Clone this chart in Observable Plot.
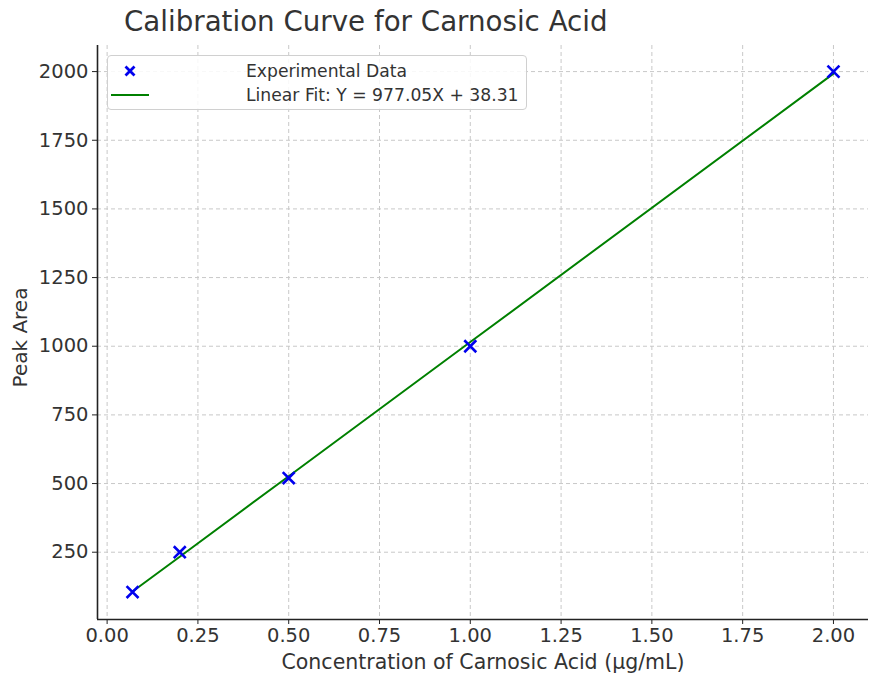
<!DOCTYPE html>
<html>
<head>
<meta charset="utf-8">
<script src="https://cdn.jsdelivr.net/npm/d3@7"></script>
<script src="https://cdn.jsdelivr.net/npm/@observablehq/plot@0.6"></script>
<style>
  html, body { margin: 0; padding: 0; background: #fff; }
  #wrap { position: relative; width: 870px; height: 677px; font-family: "DejaVu Sans", sans-serif; }
  #title { position: absolute; left: 124px; top: 5px; font-size: 27.7px; color: #333; white-space: nowrap; }
  #legend { position: absolute; left: 107px; top: 55px; width: 420px; height: 55px; box-sizing: border-box;
            border: 1px solid #d0d0d0; border-radius: 4px; background: rgba(255,255,255,0.85); }
  .row { position: absolute; left: 0; height: 20px; width: 100%; }
  .row svg { position: absolute; left: 0; top: 0; }
  .row span { position: absolute; left: 138px; top: 0; font-size: 17.2px; color: #333; line-height: 20px; white-space: nowrap; }
</style>
</head>
<body>
<div id="wrap">
  <div id="chart"></div>
  <div id="title">Calibration Curve for Carnosic Acid</div>
  <div id="legend"></div>
</div>
<script>
// Data
const concentration = [0.07, 0.2, 0.5, 1.0, 2.0];
const peakArea = [105, 250, 520, 1000, 2000];
const fitSlope = 977.05;
const fitIntercept = 38.31;
const xTicks = [0, 0.25, 0.5, 0.75, 1.0, 1.25, 1.5, 1.75, 2.0];
const yTicks = [250, 500, 750, 1000, 1250, 1500, 1750, 2000];
const xDomain = [-0.0265, 2.0965];
const yDomain = [5, 2095];
const seriesLabels = ["Experimental Data", `Linear Fit: Y = ${fitSlope.toFixed(2)}X + ${fitIntercept.toFixed(2)}`];

const points = concentration.map((c, i) => ({x: c, y: peakArea[i]}));
const fitLine = concentration.map(c => ({x: c, y: fitSlope * c + fitIntercept}));

const textColor = "#333";
const gridColor = "#c8c8c8";

const chart = Plot.plot({
  width: 870,
  height: 677,
  marginTop: 45,
  marginBottom: 58,
  marginLeft: 97,
  marginRight: 2,
  style: {fontFamily: "DejaVu Sans, sans-serif", color: textColor, background: "white"},
  x: {domain: xDomain, ticks: xTicks},
  y: {domain: yDomain, ticks: yTicks},
  marks: [
    Plot.gridX(xTicks, {stroke: gridColor, strokeOpacity: 1, strokeDasharray: "4,3", strokeWidth: 1}),
    Plot.gridY(yTicks, {stroke: gridColor, strokeOpacity: 1, strokeDasharray: "4,3", strokeWidth: 1}),
    Plot.axisX(xTicks, {tickFormat: d3.format(".2f"), tickSize: 5, tickPadding: 4, fontSize: 19.5, stroke: "#222",
      label: null, color: textColor}),
    Plot.axisY(yTicks, {tickFormat: d => String(d), tickSize: 5, tickPadding: 4, fontSize: 19.5, stroke: "#222",
      label: null, color: textColor}),
    Plot.text(["Concentration of Carnosic Acid (µg/mL)"], {frameAnchor: "bottom", dy: 49, fontSize: 20.5, fill: textColor}),
    Plot.text(["Peak Area"], {frameAnchor: "left", dx: -77, dy: 5, rotate: -90, textAnchor: "middle", fontSize: 20, fill: textColor}),
    Plot.ruleX([xDomain[0]], {stroke: "#222", strokeWidth: 1.6}),
    Plot.ruleY([yDomain[0]], {stroke: "#222", strokeWidth: 1.6}),
    Plot.line(fitLine, {x: "x", y: "y", stroke: "#008000", strokeWidth: 2}),
    Plot.dot(points, {x: "x", y: "y", symbol: "times", r: 5.5, stroke: "#0000ee", strokeWidth: 2.6})
  ]
});
document.getElementById("chart").appendChild(chart);

// Legend
const legend = document.getElementById("legend");
const rows = [
  {top: 5, label: seriesLabels[0], kind: "x"},
  {top: 29, label: seriesLabels[1], kind: "line"}
];
rows.forEach(r => {
  const row = document.createElement("div");
  row.className = "row";
  row.style.top = r.top + "px";
  const svg = d3.create("svg").attr("width", 60).attr("height", 20);
  if (r.kind === "x") {
    svg.append("path").attr("d", "M17.5,5.5L26.5,14.5M17.5,14.5L26.5,5.5").attr("stroke", "#0000ee").attr("stroke-width", 2.8).attr("fill", "none");
  } else {
    svg.append("line").attr("x1", 3).attr("x2", 41).attr("y1", 10).attr("y2", 10).attr("stroke", "#008000").attr("stroke-width", 2.2);
  }
  row.appendChild(svg.node());
  const span = document.createElement("span");
  span.textContent = r.label;
  row.appendChild(span);
  legend.appendChild(row);
});
</script>
</body>
</html>
